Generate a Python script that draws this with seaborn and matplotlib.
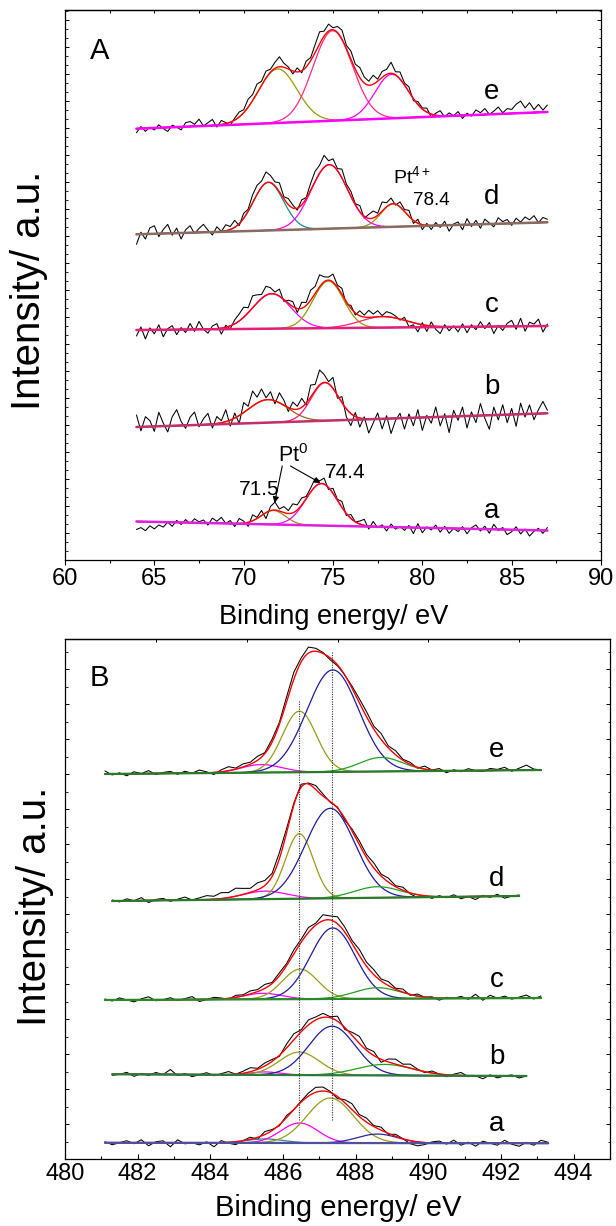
import numpy as np
import matplotlib
matplotlib.use("Agg")
import matplotlib.pyplot as plt
import seaborn as sns
from matplotlib.ticker import MultipleLocator, AutoMinorLocator, NullFormatter

# ================= Panel A : Pt 4f =================
A_names = ["a", "b", "c", "d", "e"]
A_energy_start, A_energy_stop, A_energy_step = 64.0, 87.0, 0.25
A_base_left = [38.5, 133.0, 230.0, 325.7, 431.3]      # background at 64 eV
A_base_right = [29.5, 146.7, 234.0, 337.7, 448.0]     # background at 87 eV
A_peak_pos = [[71.66, 74.36], [71.35, 74.55], [71.57, 74.74, 77.8],
              [71.38, 74.79, 78.37], [71.9, 74.98, 78.28]]
A_peak_height = [[14, 42], [23, 38], [35, 47, 11], [48, 64, 23], [54, 90, 44]]
A_peak_fwhm = [[1.6, 2.1], [2.6, 1.8], [2.5, 2.0, 3.0], [2.0, 2.4, 1.6], [2.55, 2.6, 2.2]]
A_peak_colors = [["#9c8c1c", "#ff00ff"], ["#a0601a", "#ff1a75"],
                 ["#ff00ff", "#999900", "#ff2070"],
                 ["#1a8a8a", "#ff00ff", "#a08a10"],
                 ["#999900", "#ff2a8a", "#ff00ff"]]
A_base_colors = ["#e020e0", "#c0306a", "#e0207a", "#8b6a60", "#ff00ff"]

A_resid_a = [-8, -6, -9, -4, -7, -3, -5, 0, -4, 2, -2, 3,
             -1, 4, 1, 3, -2, 5, 2, 6, 0, 3, -3, 5,
             2, -4, 6, 1, 5, -6, 4, 8, 2, 6, 3, 9,
             5, 7, 2, 4, 8, 3, 6, -2, 5, 1, 6, -2,
             4, 0, 3, 6, -3, 5, -1, 2, -4, 3, -2, 1,
             -3, 2, -6, 4, -5, 1, -2, 3, -4, 2, -5, 0,
             -3, 2, -5, 1, 4, -2, 3, -4, 5, -1, 2, -5,
             -2, 3, -4, 1, -6, -1, 2, -3, 3]
A_resid_b = [12, -4, 10, 6, -5, 14, 3, -6, 9, 16, 4, -3,
             8, 13, -2, 6, 11, -4, 7, 2, 12, -6, 5, -8,
             10, 3, 15, 6, 12, 2, 8, -3, 10, 5, -4, 7,
             3, 9, -2, 12, 6, 15, 8, 2, 11, -3, 6, -8,
             -12, 4, -9, 2, -14, -4, 6, -10, 3, -15, -2, 5,
             -11, 4, -8, 8, -13, 2, -6, 10, -9, 3, -16, 6,
             -4, 9, -12, 4, -7, 12, -3, -14, 8, -5, 10, -8,
             6, -12, 11, -3, 9, -6, 4, 12, 3]
A_resid_c = [-6, 3, -9, 2, -4, 5, -7, 1, 4, -5, 2, -3,
             6, -2, 8, 0, -4, 3, 5, -6, 2, -3, 4, 7,
             10, 5, 12, 8, 4, 9, 6, 2, 7, -2, 3, 5,
             -4, 6, 3, 10, 7, 12, 5, 3, 8, 2, 6, -3,
             3, -2, 5, 2, 7, 3, 6, 1, 5, 4, 2, -1,
             3, -5, -2, -8, 2, -6, 4, -3, -7, 2, -4, 1,
             -5, 3, -6, 2, -3, 5, -2, 4, -7, 1, -4, 3,
             6, -3, 8, -5, 4, 2, 7, -6, 2]
A_resid_d = [-10, 2, -5, 6, 8, -3, 4, 9, -2, 5, -6, 3,
             7, -1, 4, 8, 2, -3, 5, 0, 6, 3, 7, -2,
             5, 2, 8, 9, 6, 11, 7, 4, 9, 2, 6, 3,
             -2, 5, 1, 7, 10, 8, 12, 4, 7, 2, 9, 3,
             5, 1, 6, -2, 4, 7, 2, 9, 4, 6, -1, 5,
             2, 6, -3, 4, -5, 2, -4, 3, -2, 4, -6, 1,
             3, -5, 6, -2, 4, -4, 5, 1, -3, 6, 2, 4,
             -2, 5, 1, 6, 3, 7, 0, 5, 3]
A_resid_e = [-4, 2, -3, 1, -2, 3, -1, -4, 2, 0, -3, 4,
             5, 2, 7, 0, 3, 6, -2, 4, 1, -3, 2, 5,
             3, 8, 6, 9, 4, 7, 3, 6, 10, 4, 2, -3,
             4, -2, 6, 3, 8, 12, 5, 7, 2, 6, 9, 3,
             8, 5, 10, 6, 4, 9, 2, 6, 5, 11, 3, 7,
             2, 5, -2, 3, 1, 4, -3, 2, 5, -1, 3, 0,
             4, -3, 2, -1, 5, 2, 6, 0, 3, 7, 1, 5,
             4, 9, 12, 5, 10, 3, 8, 2, 7]
A_resid = [A_resid_a, A_resid_b, A_resid_c, A_resid_d, A_resid_e]
A_label_x = 83.9
A_label_y = [41.7, 165.7, 248.3, 356.0, 460.7]

# ================= Panel B : O 1s =================
B_names = ["a", "b", "c", "d", "e"]
B_energy_start, B_energy_step, B_n = 481.1, 0.2, 62
B_range = [(481.1, 493.3), (481.3, 492.7), (481.1, 493.1), (481.3, 492.5), (481.1, 493.1)]
B_base_left = [16.3, 84.7, 159.0, 258.0, 385.0]
B_base_right = [15.7, 83.0, 161.0, 263.0, 389.0]
B_peak_pos = [[485.5, 486.45, 487.3, 488.6], [485.5, 486.45, 487.35, 488.8],
              [485.45, 486.47, 487.37, 488.6], [485.5, 486.45, 487.3, 488.6],
              [485.4, 486.45, 487.37, 488.7]]
B_peak_height = [[4, 20, 45, 9], [3, 23, 49, 11], [6, 30, 71, 11],
                 [8, 65, 90, 11], [8, 61, 102, 14]]
B_peak_fwhm = [[1.2, 1.2, 1.5, 1.3], [1.0, 1.3, 1.5, 1.8], [1.2, 1.15, 1.45, 1.5],
               [1.4, 0.9, 1.6, 1.5], [1.3, 1.1, 1.68, 1.4]]
B_std_colors = ["#ff00ff", "#9a9a1a", "#1c1ca0", "#22a022"]
B_peak_colors = [["#2a8a8a", "#ff00ff", "#9a9a1a", "#2a2a9a"]] + [B_std_colors] * 4
B_base_colors = ["#5050a0", "#2a7a3a", "#2a8a2a", "#2a7a2a", "#2a7a2a"]

B_resid_a = [1, -2, 0, 2, -1, 3, -3, 1, 2, -4,
             3, -1, 0, -2, 1, -4, 2, -1, -3, 0,
             2, -2, 3, 1, -1, 2, 0, 1, 3, 5,
             4, 1, -2, 3, 6, 2, 4, 1, 3, -1,
             2, 0, -3, -4, -2, 1, 2, -1, 3, -2,
             1, -3, 2, 0, -2, 3, -1, -3, 1, -2,
             3, 1]
B_resid_b = [1, -1, 0, 2, -2, 1, -1, 2, 0, 5,
             -1, 1, -2, 0, 2, -1, 1, 3, 0, 2,
             4, 1, 3, 2, -1, 4, 6, 2, 5, 3,
             4, 1, 5, -2, 3, 7, 2, 4, -3, 3,
             5, 2, 4, 1, -1, 2, 0, -2, 1, 3,
             -1, 0, -3, 1, -2, 0, 1, -2, 0, -1,
             0, 0]
B_resid_c = [1, -1, 2, 0, -2, 1, 3, -1, 0, 2,
             -1, 1, 3, -2, 0, 2, 1, -1, 2, 1,
             3, 2, 4, 1, 3, 2, 4, 3, 5, 2,
             6, 4, 7, 5, 3, 6, 4, 5, 2, 4,
             1, 3, -1, 2, 0, 1, -2, 1, 0, 2,
             -1, 4, -2, 3, 0, 2, -1, 1, 3, -1,
             2, 0]
B_resid_d = [-2, 1, -1, 2, 0, 3, -2, 1, 2, -1,
             1, 3, 0, 2, 4, 3, 6, 5, 8, 6,
             4, 7, 5, 3, 6, 4, 2, 3, 1, 4,
             2, -1, 1, -2, 2, 4, 3, 5, 2, 4,
             1, 3, -1, -3, 0, -2, 1, -1, 2, -2,
             0, -3, 1, -1, 2, -2, 0, 1, -1, 0,
             0, 0]
B_resid_e = [3, -1, 1, -2, 2, 0, 3, -1, 1, 2,
             -1, 2, 0, 3, 1, -2, 2, 4, 1, 3,
             2, 4, 1, 3, 2, 5, 7, 4, 6, 3,
             1, -2, -1, 0, 2, 4, 5, 3, 6, 2,
             4, 1, 2, -1, 3, 0, 2, -2, 1, -1,
             2, 0, -1, 2, 1, 3, -1, 2, 5, 1,
             0, 1]
B_resid = [B_resid_a, B_resid_b, B_resid_c, B_resid_d, B_resid_e]
B_label_x = 491.88
B_label_y = [28.3, 95.0, 172.3, 273.0, 402.3]
B_marker_energy = [486.45, 487.35]
B_marker_top = [459.0, 507.0]
B_marker_bottom = 39.0


def gauss(x, c, h, w):
    return h * np.exp(-4 * np.log(2) * (x - c) ** 2 / w ** 2)


def line(x, x0, x1, y0, y1):
    return y0 + (y1 - y0) * (x - x0) / (x1 - x0)


sns.set_style("ticks")
plt.rcParams["font.family"] = ["Liberation Sans", "DejaVu Sans"]
plt.rcParams["mathtext.fontset"] = "custom"
plt.rcParams["mathtext.rm"] = "Liberation Sans"
plt.rcParams["mathtext.it"] = "Liberation Sans:italic"
for key in ("text.color", "axes.labelcolor", "xtick.color", "ytick.color", "axes.edgecolor"):
    plt.rcParams[key] = "black"
NARROW = ["Liberation Sans Narrow", "Liberation Sans", "DejaVu Sans"]

fig = plt.figure(figsize=(6.16, 12.26), dpi=100)
axA = fig.add_axes([65 / 616, (1226 - 560) / 1226, 536 / 616, 550 / 1226])
axB = fig.add_axes([65 / 616, (1226 - 1159) / 1226, 545 / 616, 520 / 1226])

# ---------- Panel A ----------
xg = np.arange(A_energy_start, A_energy_stop + 1e-6, A_energy_step)
xf = np.linspace(A_energy_start, A_energy_stop, 700)
for k in range(5):
    bf = line(xf, A_energy_start, A_energy_stop, A_base_left[k], A_base_right[k])
    bg = line(xg, A_energy_start, A_energy_stop, A_base_left[k], A_base_right[k])
    env_f = bf.copy()
    env_g = bg.copy()
    for c, h, w, col in zip(A_peak_pos[k], A_peak_height[k], A_peak_fwhm[k], A_peak_colors[k]):
        gf = gauss(xf, c, h, w)
        env_f += gf
        env_g += gauss(xg, c, h, w)
        sns.lineplot(x=xf, y=bf + gf, ax=axA, color=col, linewidth=0.9, sort=False,
                     estimator=None, zorder=2)
    raw = env_g + np.array(A_resid[k], dtype=float)
    sns.lineplot(x=xg, y=raw, ax=axA, color="black", linewidth=0.75, sort=False,
                 estimator=None, zorder=1.5)
    sns.lineplot(x=xf, y=env_f, ax=axA, color="#ff0000", linewidth=1.0, sort=False,
                 estimator=None, zorder=3)
    sns.lineplot(x=xf, y=bf, ax=axA, color=A_base_colors[k], linewidth=1.8, sort=False,
                 estimator=None, zorder=4)
    axA.text(A_label_x, A_label_y[k], A_names[k], fontsize=20, ha="center", va="baseline")

axA.text(61.4, 500.7, "A", fontsize=21, ha="left", va="baseline")
axA.text(78.36, 377, r"Pt$^{4+}$", fontsize=14, ha="left", va="baseline", family=NARROW)
axA.text(79.47, 355, "78.4", fontsize=13.5, ha="left", va="baseline", family=NARROW)
axA.text(71.92, 98, r"Pt$^{0}$", fontsize=15.5, ha="left", va="baseline", family=NARROW)
axA.text(69.75, 65, "71.5", fontsize=15, ha="left", va="baseline", family=NARROW)
axA.text(74.55, 81.7, "74.4", fontsize=15, ha="left", va="baseline", family=NARROW)
arrow = dict(arrowstyle="-|>", color="black", lw=0.8, mutation_scale=9, shrinkA=0, shrinkB=0)
axA.annotate("", xy=(71.73, 57), xytext=(72.16, 94), arrowprops=arrow)
axA.annotate("", xy=(74.3, 77), xytext=(72.62, 94), arrowprops=arrow)

axA.set_xlim(60, 90)
axA.set_ylim(0, 550)
axA.xaxis.set_major_locator(MultipleLocator(5))
axA.xaxis.set_minor_locator(MultipleLocator(2.5))
axA.yaxis.set_major_locator(MultipleLocator(27))
axA.yaxis.set_minor_locator(AutoMinorLocator(3))
axA.yaxis.set_major_formatter(NullFormatter())
axA.tick_params(axis="x", which="major", direction="out", length=3.6, width=0.8,
                labelsize=17, pad=2.5, top=False)
axA.tick_params(axis="x", which="minor", direction="out", length=2.2, width=0.8, top=False)
axA.tick_params(axis="y", which="major", direction="in", length=3.0, width=0.7,
                left=True, right=True, labelleft=False)
axA.tick_params(axis="y", which="minor", direction="in", length=1.8, width=0.6,
                left=True, right=True)
topA = axA.secondary_xaxis("top")
topA.xaxis.set_major_locator(MultipleLocator(5))
topA.xaxis.set_minor_locator(MultipleLocator(2.5))
topA.tick_params(axis="x", which="both", direction="in", length=2.5, width=0.7, labeltop=False)
topA.spines["top"].set_linewidth(0.9)

axA.set_xlabel("Binding energy/ eV", fontsize=19.5)
axA.xaxis.label.set_verticalalignment("center")
axA.xaxis.set_label_coords(0.502, -0.1036)
axA.set_ylabel("Intensity/ a.u.", fontsize=29)
axA.yaxis.label.set_verticalalignment("center")
axA.yaxis.label.set_rotation_mode("default")
axA.yaxis.set_label_coords((29 - 65) / 536, (560 - 290) / 550)

# ---------- Panel B ----------
xgB = B_energy_start + B_energy_step * np.arange(B_n)
for k in range(5):
    lo, hi = B_range[k]
    xf = np.linspace(lo, hi, 600)
    m = (xgB >= lo - 1e-6) & (xgB <= hi + 1e-6)
    xs = xgB[m]
    bf = line(xf, lo, hi, B_base_left[k], B_base_right[k])
    bg = line(xs, lo, hi, B_base_left[k], B_base_right[k])
    env_f = bf.copy()
    env_g = bg.copy()
    for c, h, w, col in zip(B_peak_pos[k], B_peak_height[k], B_peak_fwhm[k], B_peak_colors[k]):
        gf = gauss(xf, c, h, w)
        env_f += gf
        env_g += gauss(xs, c, h, w)
        sns.lineplot(x=xf, y=bf + gf, ax=axB, color=col, linewidth=0.9, sort=False,
                     estimator=None, zorder=2)
    raw = env_g + np.array(B_resid[k], dtype=float)[m]
    sns.lineplot(x=xs, y=raw, ax=axB, color="black", linewidth=0.75, sort=False,
                 estimator=None, zorder=1.5)
    sns.lineplot(x=xf, y=env_f, ax=axB, color="#ff0000", linewidth=1.0, sort=False,
                 estimator=None, zorder=3)
    sns.lineplot(x=xf, y=bf, ax=axB, color=B_base_colors[k], linewidth=1.6, sort=False,
                 estimator=None, zorder=4)
    axB.text(B_label_x, B_label_y[k], B_names[k], fontsize=20, ha="center", va="baseline")

axB.vlines(B_marker_energy, B_marker_bottom, B_marker_top, colors="#333333",
           linestyles=(0, (1, 1.2)), linewidth=0.8, zorder=5)
axB.text(480.68, 473, "B", fontsize=21, ha="left", va="baseline")

axB.set_xlim(480, 495)
axB.set_ylim(0, 520)
axB.xaxis.set_major_locator(MultipleLocator(2))
axB.xaxis.set_minor_locator(MultipleLocator(1))
axB.yaxis.set_major_locator(MultipleLocator(35))
axB.yaxis.set_minor_locator(AutoMinorLocator(2))
axB.yaxis.set_major_formatter(NullFormatter())
axB.tick_params(axis="x", which="major", direction="in", length=3.6, width=0.8,
                labelsize=17, pad=3.2, top=False)
axB.tick_params(axis="x", which="minor", direction="in", length=2.2, width=0.8, top=False)
axB.tick_params(axis="y", which="major", direction="in", length=3.0, width=0.7,
                left=True, right=True, labelleft=False)
axB.tick_params(axis="y", which="minor", direction="in", length=1.8, width=0.6,
                left=True, right=True)
topB = axB.secondary_xaxis("top")
topB.xaxis.set_major_locator(MultipleLocator(2.5))
topB.tick_params(axis="x", which="both", direction="in", length=2.5, width=0.7, labeltop=False)
topB.spines["top"].set_linewidth(0.9)

axB.set_xlabel("Binding energy/ eV", fontsize=21)
axB.xaxis.label.set_verticalalignment("center")
axB.xaxis.set_label_coords((338 - 65) / 545, (1159 - 1207.5) / 520)
axB.set_ylabel("Intensity/ a.u.", fontsize=29)
axB.yaxis.label.set_verticalalignment("center")
axB.yaxis.label.set_rotation_mode("default")
axB.yaxis.set_label_coords((35 - 65) / 545, (1159 - 906) / 520)

for ax in (axA, axB):
    for s in ax.spines.values():
        s.set_visible(True)
        s.set_linewidth(0.9)
        s.set_color("black")

fig.savefig("out.png", dpi=100)
